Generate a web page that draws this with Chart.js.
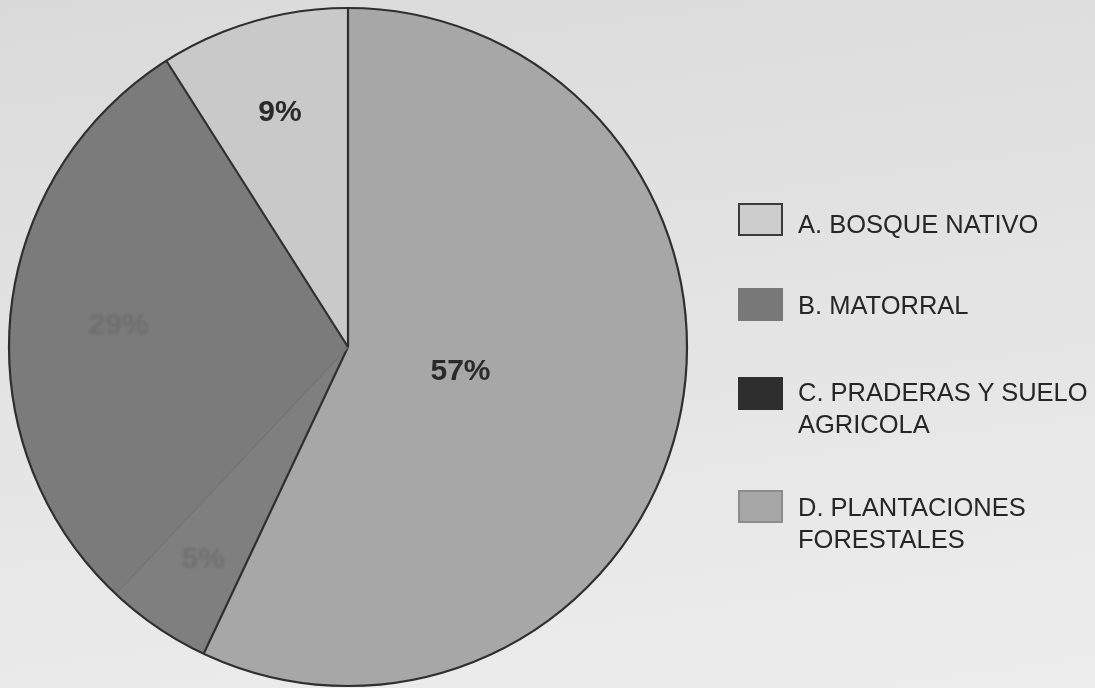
<!DOCTYPE html>
<html>
<head>
<meta charset="utf-8">
<script src="https://cdn.jsdelivr.net/npm/chart.js@4/dist/chart.umd.min.js"></script>
<style>
  html, body { margin: 0; padding: 0; width: 1095px; height: 688px; overflow: hidden; }
  body {
    position: relative;
    background: linear-gradient(172deg, #dadada 0%, #e3e3e3 45%, #ededed 100%);
    font-family: "Liberation Sans", Arial, sans-serif;
  }
  #wrap { position: absolute; left: 0; top: 0; width: 1095px; height: 688px; }
  .lbox { position: absolute; left: 738px; width: 45px; height: 33px; box-sizing: border-box; }
  .ltext { position: absolute; left: 798px; font-size: 25.5px; line-height: 32px; color: #262626; white-space: nowrap; }
</style>
</head>
<body>
<div id="wrap"><canvas id="c"></canvas></div>
<div id="legend"></div>
<script>
// ---- data (legend order) ----
const categories = ['A. BOSQUE NATIVO', 'B. MATORRAL', 'C. PRADERAS Y SUELO AGRICOLA', 'D. PLANTACIONES FORESTALES'];
const legendLines = [['A. BOSQUE NATIVO'], ['B. MATORRAL'], ['C. PRADERAS Y SUELO', 'AGRICOLA'], ['D. PLANTACIONES', 'FORESTALES']];
const shares = [9, 29, 5, 57];            // percent
const shareLabels = ['9%', '29%', '5%', '57%'];

// ---- styles (legend order) ----
const sliceColors  = ['#c9c9c9', '#7b7b7b', '#7f7f7f', '#a7a7a7'];
const legendColors = ['#cdcdcd', '#787878', '#2e2e2e', '#a6a6a6'];
const legendBorders = ['2px solid #3a3a3a', 'none', 'none', '2px solid #8c8c8c'];
const labelColors  = ['#2a2a2a', '#6e6e6e', '#707070', '#2a2a2a'];
const labelBlur    = [0, 1.6, 1.4, 0];
const labelRadiusFrac = [0.72, 0.68, 0.76, 0.34];
// line drawn at the start angle of each slice (A: B|A, B: C|B, C: D|C, D: top)
const startLineColors = ['#2f2f2f', '#737373', '#2f2f2f', '#2f2f2f'];
const startLineWidths = [2.2, 1.4, 2.2, 2.2];
const boxTops  = [203, 288, 377, 490];
const textTops = [208, 289, 376, 491];

// pie is drawn clockwise from 12 o'clock as D, C, B, A
const order = [3, 2, 1, 0];
const pick = arr => order.map(i => arr[i]);

const pieDecor = {
  id: 'pieDecor',
  afterDatasetsDraw(chart) {
    const ctx = chart.ctx;
    const arcs = chart.getDatasetMeta(0).data;
    const p0 = arcs[0].getProps(['x', 'y', 'outerRadius'], true);
    const cx = p0.x, cy = p0.y, r = p0.outerRadius;
    ctx.save();
    // value labels
    ctx.font = 'bold 30px "Liberation Sans", Arial, sans-serif';
    ctx.textAlign = 'center';
    ctx.textBaseline = 'middle';
    arcs.forEach((arc, k) => {
      const i = order[k];
      const pr = arc.getProps(['startAngle', 'endAngle'], true);
      const mid = (pr.startAngle + pr.endAngle) / 2;
      const d = r * labelRadiusFrac[i];
      ctx.filter = labelBlur[i] ? 'blur(' + labelBlur[i] + 'px)' : 'none';
      ctx.fillStyle = labelColors[i];
      ctx.fillText(shareLabels[i], cx + d * Math.cos(mid), cy + d * Math.sin(mid));
    });
    ctx.filter = 'none';
    ctx.lineCap = 'butt';
    // radial boundary lines
    arcs.forEach((arc, k) => {
      const i = order[k];
      const a = arc.getProps(['startAngle'], true).startAngle;
      ctx.beginPath();
      ctx.moveTo(cx, cy);
      ctx.lineTo(cx + r * Math.cos(a), cy + r * Math.sin(a));
      ctx.strokeStyle = startLineColors[i];
      ctx.lineWidth = startLineWidths[i];
      ctx.stroke();
    });
    // outer rim
    ctx.beginPath();
    ctx.arc(cx, cy, r, 0, Math.PI * 2);
    ctx.strokeStyle = '#2f2f2f';
    ctx.lineWidth = 2.2;
    ctx.stroke();
    ctx.restore();
  }
};

new Chart(document.getElementById('c'), {
  type: 'pie',
  data: {
    labels: pick(categories),
    datasets: [{
      data: pick(shares),
      backgroundColor: pick(sliceColors),
      borderWidth: 0
    }]
  },
  options: {
    responsive: true,
    maintainAspectRatio: false,
    animation: false,
    layout: { padding: { left: 9, top: 8, right: 408, bottom: 2 } },
    plugins: { legend: { display: false }, tooltip: { enabled: false } }
  },
  plugins: [pieDecor]
});

// HTML legend
const leg = document.getElementById('legend');
categories.forEach((c, i) => {
  const b = document.createElement('div');
  b.className = 'lbox';
  b.style.top = boxTops[i] + 'px';
  b.style.background = legendColors[i];
  b.style.border = legendBorders[i];
  leg.appendChild(b);
  const t = document.createElement('div');
  t.className = 'ltext';
  t.style.top = textTops[i] + 'px';
  t.innerHTML = legendLines[i].join('<br>');
  leg.appendChild(t);
});
</script>
</body>
</html>
